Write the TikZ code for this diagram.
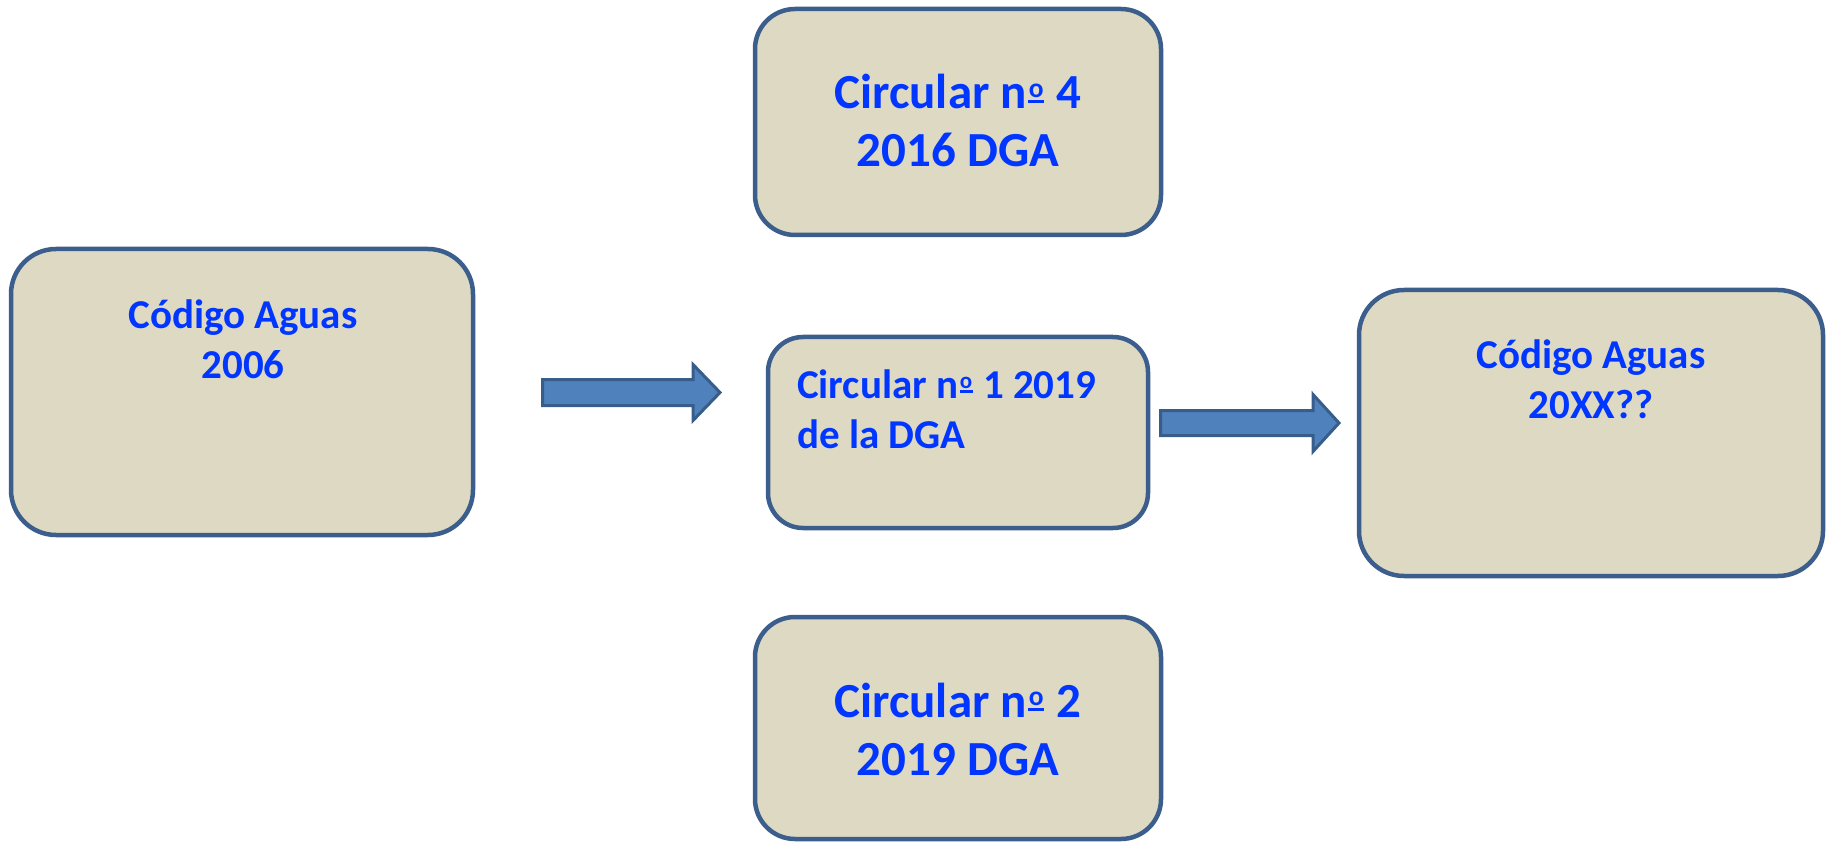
\documentclass[tikz,border=0pt]{standalone}
\usepackage{fontspec}
\setmainfont{Carlito}
\definecolor{boxfill}{HTML}{DDD9C3}
\definecolor{boxline}{HTML}{3B5E8C}
\definecolor{txtblue}{HTML}{0036FF}
\definecolor{arrfill}{HTML}{4F81BD}
\definecolor{arrline}{HTML}{385D8A}
\newcommand{\ordmark}{\makebox[0.38em][c]{\rlap{\rule[0.12em]{0.32em}{0.07em}}\makebox[0.32em][c]{\raisebox{0.24em}{\scalebox{0.56}{o}}}}}
\begin{document}
\begin{tikzpicture}[x=1pt,y=-1pt,
  box/.style={draw=boxline, fill=boxfill, line width=4.5pt, rectangle, inner sep=0pt, outer sep=0pt},
  bigtxt/.style={text=txtblue, font=\fontsize{41}{50}\selectfont\bfseries, inner sep=0pt, anchor=base},
  hugetxt/.style={text=txtblue, font=\fontsize{49}{58}\selectfont\bfseries, inner sep=0pt, anchor=base},
  blockarrow/.style={draw=arrline, fill=arrfill, line width=3pt, line join=miter}]
\useasboundingbox (0,0) rectangle (1829,842);
% boxes
\node[box, rounded corners=45pt, minimum width=462pt, minimum height=286pt] (code06) at (242,392) {};
\node[box, rounded corners=40pt, minimum width=406pt, minimum height=226pt] (circ4) at (958,122) {};
\node[box, rounded corners=35pt, minimum width=380pt, minimum height=191pt] (circ1) at (958,432.5) {};
\node[box, rounded corners=40pt, minimum width=406pt, minimum height=222pt] (circ2) at (958,728) {};
\node[box, rounded corners=45pt, minimum width=464pt, minimum height=286pt] (codeXX) at (1591,433) {};
% texts (anchor base = baseline of the last line)
\node[bigtxt, align=center] (t06) at (243,378) {Código Aguas\\2006};
\node[hugetxt, align=center] (t4) at (958,167) {Circular n\ordmark{} 4\\2016 DGA};
\node[bigtxt, align=left, anchor=base west] (t1) at (797,448) {Circular n\ordmark{} 1 2019\\de la DGA};
\node[hugetxt, align=center] (t2) at (958,775) {Circular n\ordmark{} 2\\2019 DGA};
\node[bigtxt, align=center] (tXX) at (1591,418) {Código Aguas\\20XX??};
% block arrows
\draw[blockarrow] (542.5,379.5) -- (693,379.5) -- (693,364.5) -- (720,392.5) -- (693,420.5) -- (693,405.5) -- (542.5,405.5) -- cycle;
\draw[blockarrow] (1160.5,410.5) -- (1313,410.5) -- (1313,394.5) -- (1339,423) -- (1313,451.5) -- (1313,435.5) -- (1160.5,435.5) -- cycle;
\end{tikzpicture}
\end{document}
